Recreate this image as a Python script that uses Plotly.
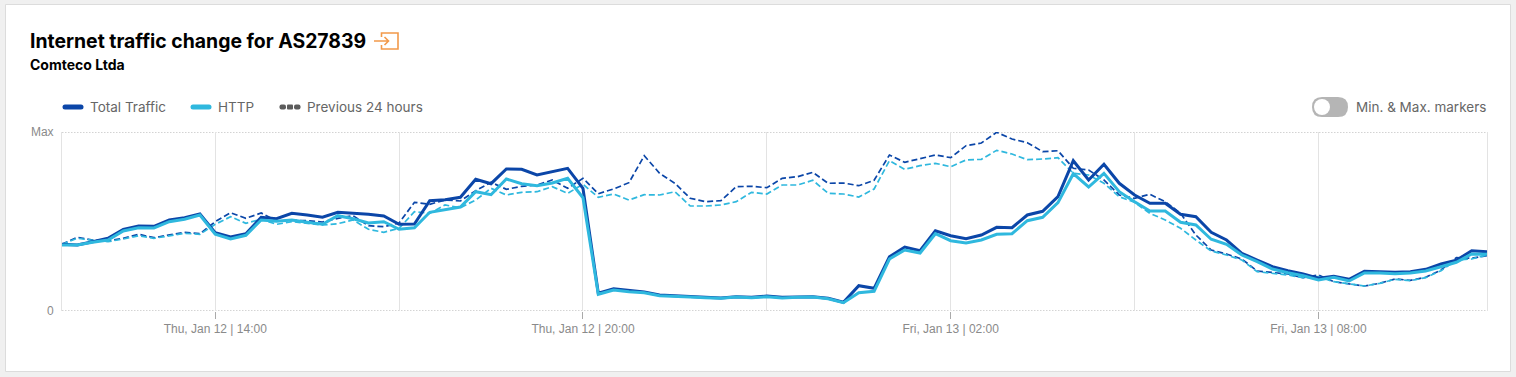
import pandas as pd
import plotly.graph_objects as go

TITLE = "Internet traffic change for AS27839"
SUBTITLE = "Comteco Ltda"
MAX_VALUE = 179
start_time = "2023-01-12 11:30"
end_time = "2023-01-13 10:45"

total = [66.7,66,69.3,72.7,81.7,85,84.7,91,93.3,97,78.3,74,77.3,93.7,92.3,97.7,96,93.7,98.7,98,96.7,95,86.7,
 87,110.3,111.3,113.7,131.7,127.3,142,141.7,136,139.3,142.7,122.7,17.7,22.3,20.3,19,16,15,14.3,13.7,13,14.3,13.7,
 15,13.7,14,14.3,12.7,8.7,25.3,22.7,54.3,64,60.3,80.3,75.3,72.3,76,83.7,83.3,96,99.7,114.3,150.3,131,146.7,
 127.7,116,107.7,107.7,96.7,94.3,78.7,71,57.7,51,44.3,40.3,37,32.7,34.7,31.7,39.7,39.3,38.7,39.3,41.7,47,50.7,60.3,59.3]
http = [66,66,68.7,71,80,83.3,83,89.3,91.7,96,76.7,72,75.7,91,89.7,91,88.7,86.7,95.3,92.3,88,89.3,81.7,
 83.3,98.7,101,104,119.3,116.3,132,127.3,125.3,128,132.7,113.3,16.7,21,19.3,18.3,15.3,14.3,14,13.3,12.7,14,13.3,
 14.3,13,13.7,14,12.3,8.3,18.3,19.7,52,61,58,77.3,70.3,68,71,76.7,77.3,90.3,93.7,108.3,137.3,124,137.7,
 119.3,109.3,100,100,88.7,86,71.7,66.7,56,49.3,42,38.3,35.3,31,33.7,30,38,38,37.3,38,40,44.3,48.7,57,56.7]
prev_total = [66.7,73.7,71,70,72.7,76.7,73.3,76,78.7,77.3,89.3,98.3,92.7,98,90,90.7,90.3,89,92.7,95.3,85.3,84.3,88,
 108.7,106.7,111,110,120.3,128.7,121.7,124.7,126,131,122.7,132.7,117.3,122,128.3,155.3,137.7,127.7,112.7,109.3,110.3,124.3,124.7,
 123.3,132.7,134.3,138.7,127.7,128,125.3,130.7,156,148.7,152.3,156,153.3,165.3,168,178.7,172,168.3,159.3,160.3,142.7,141,131,
 116,112.7,116.7,109.3,97.7,76,61,57,52,40,38.3,37,33.3,36,29.3,27,25,27.7,32,30.7,33.7,41,53.3,52.7,55.3]
prev_http = [66.7,72.7,70.7,69.3,72,75.3,72.7,75.3,77.7,76.7,86.7,94.3,87.7,91.7,86.7,89.3,87.3,86,87.3,91,81.7,78.7,82.7,
 99.3,97.7,106,103.3,111,122.7,116,118.7,119.3,124.3,117.7,126.7,113.7,117,111,116.3,116,119.3,105,105,106,109.3,118.7,
 117,126,126,130.7,117.7,117,114,122,150.3,141.7,145.3,147.7,144.3,151,151.7,160.7,157,151.3,152,153.3,137.7,136,127.7,
 114.3,108.7,97.7,91,82.7,71,60,56,51,39.3,37.7,36,33.3,34.3,29.3,27,25,27.7,31.7,30.3,33.3,40.3,51,52,56]
times = pd.date_range(start_time, end_time, freq="15min")
tick_times = ["2023-01-12 14:00", "2023-01-12 20:00", "2023-01-13 02:00", "2023-01-13 08:00"]
tick_labels = ["Thu, Jan 12 | 14:00", "Thu, Jan 12 | 20:00", "Fri, Jan 13 | 02:00", "Fri, Jan 13 | 08:00"]
legend_labels = ["Total Traffic", "HTTP", "Previous 24 hours"]
toggle_label = "Min. & Max. markers"

DARK, LIGHT, GREY = "#0b46a8", "#2fb8de", "#5c5c5c"
W, H = 1516, 377
L, R, T, B = 62, 29, 132, 66
PW, PH = W - L - R, H - T - B

def px(x):
    return (x - L) / PW

def py(y):
    return (H - B - y) / PH

def rrect(x0, y0, x1, y1, r):
    a, b, c, d = px(x0), px(x1), py(y0), py(y1)
    rx, ry = r / PW, r / PH
    return (f"M{a+rx},{c} L{b-rx},{c} Q{b},{c} {b},{c-ry} L{b},{d+ry} Q{b},{d} {b-rx},{d} "
            f"L{a+rx},{d} Q{a},{d} {a},{d+ry} L{a},{c-ry} Q{a},{c} {a+rx},{c} Z")

def paper_shape(**kw):
    return dict(xref="paper", yref="paper", layer="below", **kw)

def text(x, y, s, size, color, family="Inter", anchor="left"):
    return dict(xref="paper", yref="paper", x=px(x), y=py(y), text=s, showarrow=False,
                xanchor=anchor, yanchor="middle", xshift=0, borderpad=0, borderwidth=0,
                font=dict(size=size, color=color, family=family))

fig = go.Figure()
for vals, color, width, dash, name in [
    (prev_total, DARK, 1.7, "6px,3px", "Total Traffic, previous 24 hours"),
    (prev_http, LIGHT, 1.7, "6px,3px", "HTTP, previous 24 hours"),
    (total, DARK, 3, "solid", "Total Traffic"),
    (http, LIGHT, 3, "solid", "HTTP"),
]:
    fig.add_trace(go.Scatter(x=times, y=vals, mode="lines", name=name, showlegend=False,
                             line=dict(color=color, width=width, dash=dash, shape="linear")))

shapes = [
    paper_shape(type="rect", x0=px(5.5), x1=px(1510.5), y0=py(4.5), y1=py(371.5),
                fillcolor="white", line=dict(color="#dcdcdc", width=1)),
    # frame of the value axis
    dict(type="line", xref="paper", yref="y", x0=0, x1=1, y0=0, y1=0, layer="below",
         line=dict(color="#a8a8a8", width=1, dash="1.5px,1.5px")),
    dict(type="line", xref="paper", yref="y", x0=0, x1=1, y0=MAX_VALUE, y1=MAX_VALUE, layer="below",
         line=dict(color="#a8a8a8", width=1, dash="1.5px,1.5px")),
    # title icon
    dict(type="path", xref="paper", yref="paper", line=dict(color="#f2994a", width=1.6),
         path=(f"M{px(381.5)},{py(37)} L{px(381.5)},{py(33)} L{px(398)},{py(33)} L{px(398)},{py(49)} "
               f"L{px(381.5)},{py(49)} L{px(381.5)},{py(45)}")),
    dict(type="path", xref="paper", yref="paper", line=dict(color="#f2994a", width=1.6),
         path=(f"M{px(374)},{py(41)} L{px(388.5)},{py(41)} M{px(384.5)},{py(37)} L{px(388.5)},{py(41)} "
               f"L{px(384.5)},{py(45)}")),
    # legend swatches
    paper_shape(type="path", path=rrect(62.5, 104.5, 83.5, 109.5, 2.5), fillcolor=DARK, line_width=0),
    paper_shape(type="path", path=rrect(190.5, 104.5, 211.5, 109.5, 2.5), fillcolor=LIGHT, line_width=0),
    paper_shape(type="path", path=rrect(279.5, 104.5, 286, 109.5, 2), fillcolor=GREY, line_width=0),
    paper_shape(type="path", path=rrect(287, 104.5, 293, 109.5, 1), fillcolor=GREY, line_width=0),
    paper_shape(type="path", path=rrect(294, 104.5, 300.5, 109.5, 2), fillcolor=GREY, line_width=0),
    # toggle
    paper_shape(type="path", path=rrect(1312, 97, 1348, 117, 10), fillcolor="#b5b5b5", line_width=0),
    dict(type="circle", xref="paper", yref="paper", x0=px(1314), x1=px(1330), y0=py(99), y1=py(115),
         fillcolor="white", line_width=0),
]

annotations = [
    text(30, 41, f"<b>{TITLE}</b>", 19.4, "#000000"),
    text(30, 64.5, f"<b>{SUBTITLE}</b>", 14, "#000000"),
    text(90, 106.5, legend_labels[0], 13.5, "#666666"),
    text(218, 106.5, legend_labels[1], 13.5, "#666666"),
    text(307, 106.5, legend_labels[2], 13.5, "#666666"),
    text(1356, 106.5, toggle_label, 13.5, "#666666"),
]

fig.update_layout(
    width=W, height=H, margin=dict(l=L, r=R, t=T, b=B, pad=0, autoexpand=False),
    paper_bgcolor="#f0f0f0", plot_bgcolor="rgba(0,0,0,0)", showlegend=False,
    shapes=shapes, annotations=annotations,
    xaxis=dict(type="date", range=[start_time, end_time], tickmode="array",
               tickvals=tick_times, ticktext=tick_labels, showgrid=True, gridcolor="#e3e3e3", gridwidth=1,
               ticks="outside", ticklen=7, tickcolor="#aaaaaa", tickwidth=1, showline=False, zeroline=False,
               tickfont=dict(family="Liberation Sans", size=12, color="#8a8a8a"), ticklabelstandoff=0,
               minor=dict(tickmode="array", tickvals=["2023-01-12 17:00", "2023-01-12 23:00", "2023-01-13 05:00"],
                          showgrid=True, gridcolor="#e3e3e3", gridwidth=1, ticks="")),
    yaxis=dict(range=[0, MAX_VALUE], tickmode="array", tickvals=[0, MAX_VALUE], ticktext=["0", "Max"],
               showgrid=False, zeroline=False, ticklabelstandoff=5,
               showline=True, linecolor="#e3e3e3", linewidth=1, mirror=True, ticks="",
               tickfont=dict(family="Liberation Sans", size=12, color="#8a8a8a")),
)
fig.write_html("out.html", config={"displayModeBar": False},
               post_script="document.body.style.margin='0';document.body.style.overflow='hidden';")
